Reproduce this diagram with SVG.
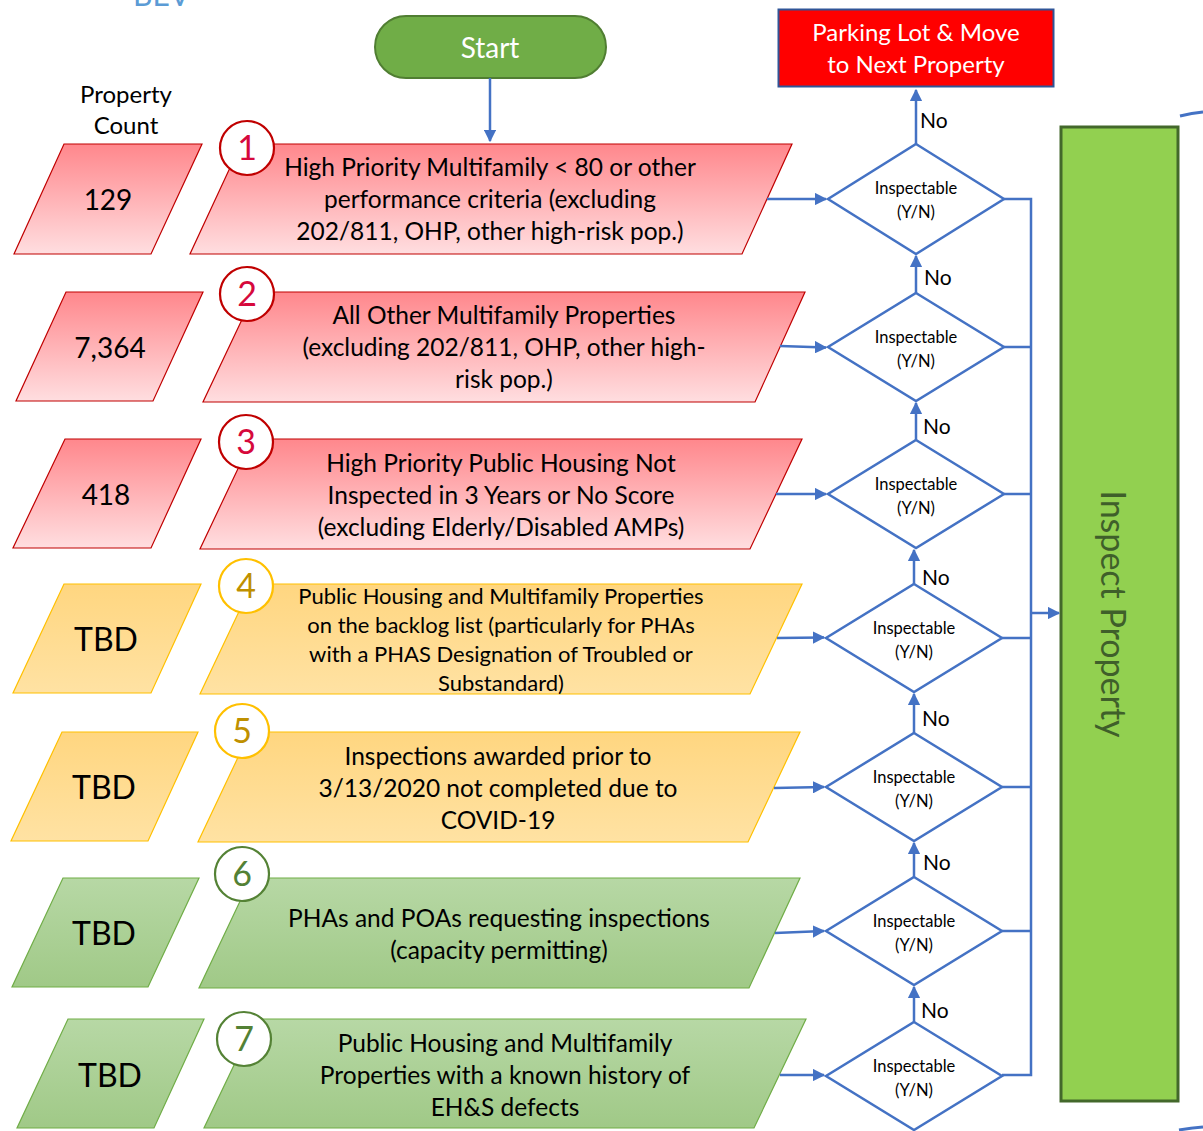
<svg xmlns="http://www.w3.org/2000/svg" width="1203" height="1131" viewBox="0 0 1203 1131">
<defs>
<linearGradient id="gRed" x1="0" y1="0" x2="0" y2="1"><stop offset="0" stop-color="#FF878C"/><stop offset="1" stop-color="#FFDEE0"/></linearGradient>
<linearGradient id="gOr" x1="0" y1="0" x2="0" y2="1"><stop offset="0" stop-color="#FFD680"/><stop offset="1" stop-color="#FFE2A3"/></linearGradient>
<linearGradient id="gGr" x1="0" y1="0" x2="0" y2="1"><stop offset="0" stop-color="#B7D8A5"/><stop offset="1" stop-color="#A0C987"/></linearGradient>
<marker id="ah" viewBox="0 0 10 10" refX="9" refY="5" markerWidth="5" markerHeight="5" orient="auto" markerUnits="strokeWidth"><path d="M0,0 L10,5 L0,10 z" fill="#4472C4"/></marker>
<style>
text{font-family:Lato,"Open Sans","Liberation Sans",sans-serif;fill:#000}
.red{fill:url(#gRed);stroke:#C00000;stroke-width:1.2}
.or{fill:url(#gOr);stroke:#FFC000;stroke-width:1.2}
.gr{fill:url(#gGr);stroke:#70AD47;stroke-width:1.2}
.cnt{font-size:28px;text-anchor:middle}
.tbd{font-size:32px;text-anchor:middle}
.lbl{font-size:24.5px;text-anchor:middle}
.lbl4{font-size:22px;text-anchor:middle}
.dia{fill:#fff;stroke:#4472C4;stroke-width:2.5}
.dt{font-size:16.5px;text-anchor:middle}
.no{font-size:21px}
.c{stroke:#4472C4;stroke-width:2.5;fill:none}
.ca{stroke:#4472C4;stroke-width:2.5;fill:none;marker-end:url(#ah)}
.cr{fill:#fff;stroke-width:2.2}
.num{font-size:34px;text-anchor:middle}
</style>
</defs>

<text x="133" y="6" style="font-size:30px;fill:#5B9BD5">BEV</text>

<g id="start">
<rect x="375" y="16" width="231" height="62" rx="31" fill="#70AD47" stroke="#507E32" stroke-width="2"/>
<text x="490" y="58" style="font-size:28px;fill:#fff;text-anchor:middle">Start</text>
</g>

<g id="parking">
<rect x="778.5" y="9.5" width="275" height="77" fill="#FF0000" stroke="#2F5597" stroke-width="2"/>
<text x="916" y="41" style="font-size:24px;fill:#fff;text-anchor:middle">Parking Lot &amp; Move</text>
<text x="916" y="73" style="font-size:24px;fill:#fff;text-anchor:middle">to Next Property</text>
</g>

<g id="property-count-label">
<text x="126" y="103" style="font-size:24px;text-anchor:middle">Property</text>
<text x="126" y="134" style="font-size:24px;text-anchor:middle">Count</text>
</g>

<!-- count parallelograms -->
<g id="count1"><polygon class="red" points="64,144 202,144 151,254 14,254"/><text class="cnt" x="108" y="210">129</text></g>
<g id="count2"><polygon class="red" points="66,292 203,292 153,401 16,401"/><text class="cnt" x="110" y="358">7,364</text></g>
<g id="count3"><polygon class="red" points="65,439 201,439 151,548 13,548"/><text class="cnt" x="106" y="505">418</text></g>
<g id="count4"><polygon class="or" points="64,584 201,584 151,693 13,693"/><text class="tbd" x="106" y="651">TBD</text></g>
<g id="count5"><polygon class="or" points="62,732 198,732 148,841 11,841"/><text class="tbd" x="104" y="799">TBD</text></g>
<g id="count6"><polygon class="gr" points="63,878 199,878 148,987 12,987"/><text class="tbd" x="104" y="945">TBD</text></g>
<g id="count7"><polygon class="gr" points="68,1019 204,1019 154,1128 17,1128"/><text class="tbd" x="110" y="1087">TBD</text></g>

<!-- priority parallelograms -->
<g id="p1">
<polygon class="red" points="241,144 792,144 742,254 190,254"/>
<text class="lbl" x="490" y="176">High Priority Multifamily &lt; 80 or other</text>
<text class="lbl" x="490" y="208">performance criteria (excluding</text>
<text class="lbl" x="490" y="240">202/811, OHP, other high-risk pop.)</text>
<circle class="cr" cx="247" cy="148" r="27" stroke="#C00000"/>
<text class="num" x="247" y="160" style="fill:#D6093C">1</text>
</g>
<g id="p2">
<polygon class="red" points="255,292 805,292 755,402 203,402"/>
<text class="lbl" x="504" y="324">All Other Multifamily Properties</text>
<text class="lbl" x="504" y="356">(excluding 202/811, OHP, other high-</text>
<text class="lbl" x="504" y="388">risk pop.)</text>
<circle class="cr" cx="247" cy="294" r="27" stroke="#C00000"/>
<text class="num" x="247" y="306" style="fill:#D6093C">2</text>
</g>
<g id="p3">
<polygon class="red" points="252,439 802,439 750,549 200,549"/>
<text class="lbl" x="501" y="472">High Priority Public Housing Not</text>
<text class="lbl" x="501" y="504">Inspected in 3 Years or No Score</text>
<text class="lbl" x="501" y="536">(excluding Elderly/Disabled AMPs)</text>
<circle class="cr" cx="246" cy="442" r="27" stroke="#C00000"/>
<text class="num" x="246" y="454" style="fill:#D6093C">3</text>
</g>
<g id="p4">
<polygon class="or" points="252,584 802,584 750,694 200,694"/>
<text class="lbl4" x="501" y="604">Public Housing and Multifamily Properties</text>
<text class="lbl4" x="501" y="633">on the backlog list (particularly for PHAs</text>
<text class="lbl4" x="501" y="662">with a PHAS Designation of Troubled or</text>
<text class="lbl4" x="501" y="691">Substandard)</text>
<circle class="cr" cx="246" cy="586" r="27" stroke="#FFC000"/>
<text class="num" x="246" y="598" style="fill:#BF9000">4</text>
</g>
<g id="p5">
<polygon class="or" points="250,732 800,732 748,842 198,842"/>
<text class="lbl" x="498" y="765">Inspections awarded prior to</text>
<text class="lbl" x="498" y="797">3/13/2020 not completed due to</text>
<text class="lbl" x="498" y="829">COVID-19</text>
<circle class="cr" cx="242" cy="731" r="27" stroke="#FFC000"/>
<text class="num" x="242" y="743" style="fill:#BF9000">5</text>
</g>
<g id="p6">
<polygon class="gr" points="251,878 800,878 749,988 199,988"/>
<text class="lbl" x="499" y="927">PHAs and POAs requesting inspections</text>
<text class="lbl" x="499" y="959">(capacity permitting)</text>
<circle class="cr" cx="242" cy="874" r="27" stroke="#548235"/>
<text class="num" x="242" y="886" style="fill:#538135">6</text>
</g>
<g id="p7">
<polygon class="gr" points="256,1019 806,1019 754,1128 204,1128"/>
<text class="lbl" x="505" y="1052">Public Housing and Multifamily</text>
<text class="lbl" x="505" y="1084">Properties with a known history of</text>
<text class="lbl" x="505" y="1116">EH&amp;S defects</text>
<circle class="cr" cx="244" cy="1039" r="27" stroke="#548235"/>
<text class="num" x="244" y="1051" style="fill:#538135">7</text>
</g>

<!-- diamonds -->
<g id="d1"><polygon class="dia" points="916,144 1004,199 916,254 828,199"/><text class="dt" x="916" y="194">Inspectable</text><text class="dt" x="916" y="218">(Y/N)</text></g>
<g id="d2"><polygon class="dia" points="916,293 1004,347 916,401 828,347"/><text class="dt" x="916" y="343">Inspectable</text><text class="dt" x="916" y="367">(Y/N)</text></g>
<g id="d3"><polygon class="dia" points="916,440 1004,494 916,548 828,494"/><text class="dt" x="916" y="490">Inspectable</text><text class="dt" x="916" y="514">(Y/N)</text></g>
<g id="d4"><polygon class="dia" points="914,584 1002,638 914,692 826,638"/><text class="dt" x="914" y="634">Inspectable</text><text class="dt" x="914" y="658">(Y/N)</text></g>
<g id="d5"><polygon class="dia" points="914,733 1002,787 914,841 826,787"/><text class="dt" x="914" y="783">Inspectable</text><text class="dt" x="914" y="807">(Y/N)</text></g>
<g id="d6"><polygon class="dia" points="914,877 1002,931 914,985 826,931"/><text class="dt" x="914" y="927">Inspectable</text><text class="dt" x="914" y="951">(Y/N)</text></g>
<g id="d7"><polygon class="dia" points="914,1022 1002,1076 914,1130 826,1076"/><text class="dt" x="914" y="1072">Inspectable</text><text class="dt" x="914" y="1096">(Y/N)</text></g>

<g id="inspect">
<rect x="1061" y="127" width="117" height="974" fill="#92D050" stroke="#43682B" stroke-width="3"/>
<text transform="translate(1101,614) rotate(90)" style="font-size:34px;text-anchor:middle;fill:#3F5F2A">Inspect Property</text>
</g>

<g id="connectors">
<path class="ca" d="M490,78 V141"/>
<path class="ca" d="M767,199 H826"/>
<path class="ca" d="M780,346 L826,347.5"/>
<path class="ca" d="M776,494 H826"/>
<path class="ca" d="M777,638 L824,637.5"/>
<path class="ca" d="M774,788 L824,787"/>
<path class="ca" d="M775,933 L824,931"/>
<path class="ca" d="M780,1075 H824"/>
<path class="ca" d="M916,144 V90"/>
<path class="ca" d="M916,293 V256"/>
<path class="ca" d="M916,440 V403"/>
<path class="ca" d="M914,584 V550"/>
<path class="ca" d="M914,733 V694"/>
<path class="ca" d="M914,877 V843"/>
<path class="ca" d="M914,1022 V987"/>
<path class="c" d="M1004,199 H1031 V1075 H1002"/>
<path class="c" d="M1004,347 H1031 M1004,494 H1031 M1002,638 H1031 M1002,787 H1031 M1002,931 H1031"/>
<path class="ca" d="M1031,613 H1059"/>
<path d="M1180,116 Q1192,113 1203,112" stroke="#4472C4" stroke-width="3" fill="none"/>
<path d="M1179,1130 Q1191,1128 1203,1127" stroke="#4472C4" stroke-width="3" fill="none"/>
</g>

<g id="no-labels">
<text class="no" x="920" y="128">No</text>
<text class="no" x="924" y="285">No</text>
<text class="no" x="923" y="434">No</text>
<text class="no" x="922" y="585">No</text>
<text class="no" x="922" y="726">No</text>
<text class="no" x="923" y="870">No</text>
<text class="no" x="921" y="1018">No</text>
</g>
</svg>
